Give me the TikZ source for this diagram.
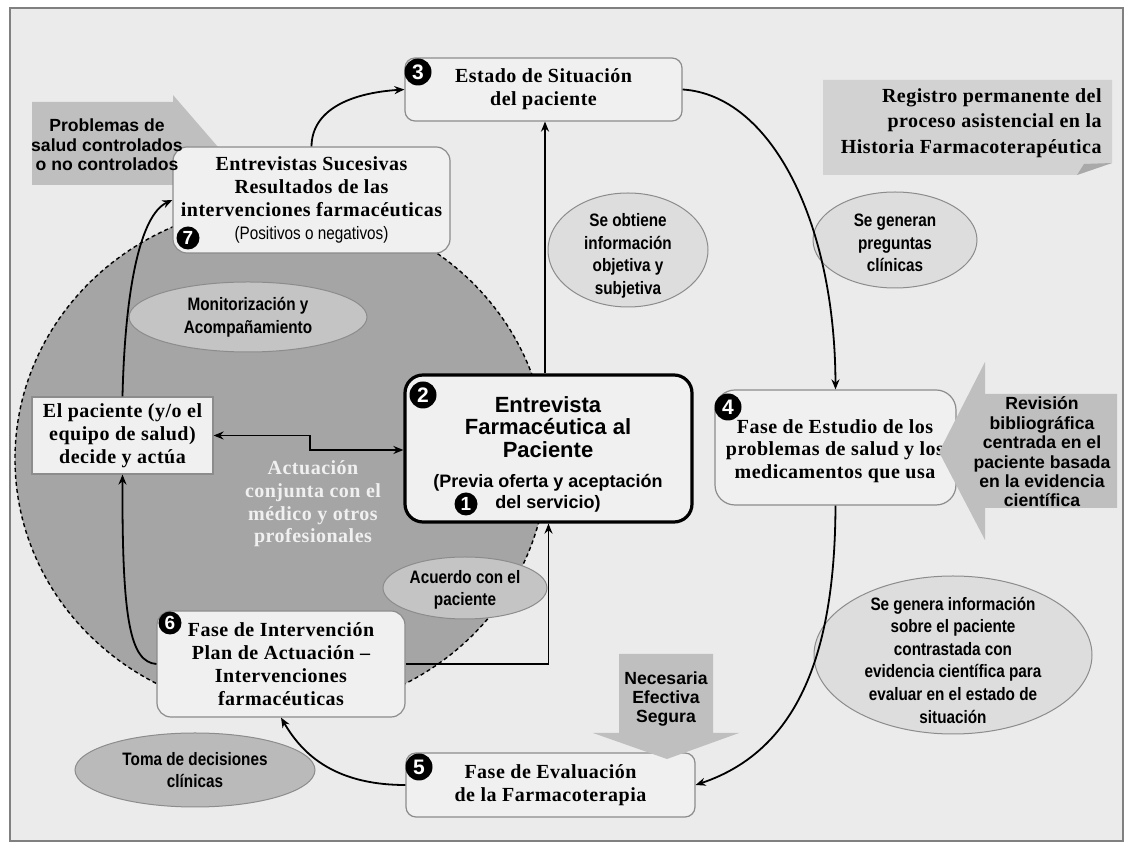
\documentclass[tikz,border=0pt]{standalone}
\usepackage{fontspec}
\setmainfont{Liberation Serif}
\newfontfamily\serifesp[LetterSpace=2.5]{Liberation Serif}
\newfontfamily\arial{Liberation Sans}
\newfontfamily\estrecha[FakeStretch=0.85]{Liberation Sans}
\usetikzlibrary{arrows.meta}
\definecolor{fondo}{RGB}{235,235,235}
\definecolor{marco}{RGB}{128,128,128}
\definecolor{cajaf}{RGB}{240,240,240}
\definecolor{borde}{RGB}{140,140,140}
\definecolor{circulo}{RGB}{165,165,165}
\definecolor{elipf}{RGB}{221,221,221}
\definecolor{elipm}{RGB}{196,196,196}
\definecolor{bloque}{RGB}{191,191,191}
\definecolor{nota}{RGB}{210,210,210}
\definecolor{pliegue}{RGB}{169,169,169}
\tikzset{
  caja/.style={draw=borde, fill=cajaf, rounded corners=5pt, align=center, inner sep=2pt, line width=0.6pt,
    font=\serifesp\bfseries\fontsize{10}{11.4}\selectfont},
  ctxt/.style={align=center, inner sep=0pt, font=\serifesp\bfseries\fontsize{10}{11.4}\selectfont},
  num/.style={circle, fill=black, text=white, inner sep=0pt, minimum size=13.5pt, font=\arial\bfseries\fontsize{10.5}{10.5}\selectfont},
  numc/.style={num, minimum size=11.5pt, font=\arial\bfseries\fontsize{9.5}{9.5}\selectfont},
  fl/.style={-{Stealth[length=5pt,width=4pt]}, line width=0.9pt},
  fldoble/.style={{Stealth[length=5pt,width=4pt]}-{Stealth[length=5pt,width=4pt]}, line width=0.9pt},
  elipc/.style={fill=elipf, draw=borde, line width=0.5pt},
  elipo/.style={fill=elipm, draw=borde, line width=0.5pt},
  etxt/.style={align=center, inner sep=0pt, font=\estrecha\bfseries\fontsize{9}{11.3}\selectfont},
  flechab/.style={fill=bloque},
  flechatxt/.style={align=center, inner sep=0pt, font=\arial\bfseries\fontsize{8.8}{9.7}\selectfont},
  blanco/.style={align=center, inner sep=0pt, text=white!94!black, font=\serifesp\bfseries\fontsize{10}{11.3}\selectfont},
}
\begin{document}
\begin{tikzpicture}[x=0.5pt, y=-0.5pt]
  \useasboundingbox (0,0) rectangle (1132,849);
  \fill[white] (0,0) rectangle (1132,849);
  \filldraw[fill=fondo, draw=marco, line width=0.6pt] (10,8) rectangle (1123,841);
  % zona de actuacion conjunta
  \filldraw[fill=circulo, draw=black, dashed, dash pattern=on 2pt off 1.5pt, line width=0.7pt]
    (281,459) ellipse [x radius=133pt, y radius=127pt];
  \filldraw[elipo] (248,317) ellipse [x radius=59.5pt, y radius=17.5pt];
  \node[etxt] (mon) at (248,317) {Monitorización y\\Acompañamiento};
  \filldraw[elipo] (465,588) ellipse [x radius=41pt, y radius=15.5pt];
  \node[etxt] (acu) at (465,590) {Acuerdo con el\\paciente};
  \node[blanco] (actu) at (313,504) {Actuación\\conjunta con el\\médico y otros\\profesionales};
  % flechas de bloque y nota
  \fill[flechab] (32,102) -- (173,102) -- (173,95) -- (218,147) -- (173,200) -- (173,185) -- (32,185) -- cycle;
  \fill[nota] (823,80) -- (1112,80) -- (1112,163) -- (1077,175) -- (823,175) -- cycle;
  \fill[pliegue] (1077,175) -- (1084,164) -- (1112,163) -- cycle;
  \node[align=right, anchor=east, inner sep=0pt, font=\serifesp\bfseries\fontsize{10}{12.6}\selectfont] (reg) at (1102,123)
    {Registro permanente del\\proceso asistencial en la\\Historia Farmacoterapéutica};
  % elipses
  \filldraw[elipc] (628,250) ellipse [x radius=40pt, y radius=28.5pt];
  \node[etxt] (obt) at (628,256) {Se obtiene\\información\\objetiva y\\subjetiva};
  \filldraw[elipc] (895,240) ellipse [x radius=41pt, y radius=24pt];
  \node[etxt] (preg) at (895,243) {Se generan\\preguntas\\clínicas};
  \filldraw[elipc] (953,655) ellipse [x radius=69.5pt, y radius=39.5pt];
  \node[etxt] (geninf) at (953,660) {Se genera información\\sobre el paciente\\contrastada con\\evidencia científica para\\evaluar en el estado de\\situación};
  \filldraw[elipo, fill=elipm!95!black] (195,770) ellipse [x radius=60pt, y radius=18.5pt];
  \node[etxt] (toma) at (195,770) {Toma de decisiones\\clínicas};
  % cajas
  \node[caja, minimum width=138.5pt, minimum height=31.5pt] (est) at (543.5,89.5) {Estado de Situación\\del paciente};
  \node[caja, rounded corners=7pt, minimum width=138.5pt, minimum height=53pt] (suc) at (311.5,200)
    {Entrevistas Sucesivas\\Resultados de las\\intervenciones farmacéuticas\\{\estrecha\mdseries\fontsize{9}{10}\selectfont (Positivos o negativos)}};
  \node[flechatxt] (prob) at (107,145) {Problemas de\\salud controlados\\o no controlados};
  \node[caja, draw=black, line width=1.6pt, rounded corners=9pt, minimum width=143.5pt, minimum height=73.5pt] (ent) at (548.5,448.5) {};
  \node[align=center, inner sep=0pt, font=\arial\bfseries\fontsize{11}{11.3}\selectfont] (entt) at (548,427) {Entrevista\\Farmacéutica al\\Paciente};
  \node[align=center, inner sep=0pt, font=\arial\bfseries\fontsize{9}{10.5}\selectfont] (ents) at (548,493.5) {(Previa oferta y aceptación\\del servicio)};
  \node[caja, rounded corners=10pt, minimum width=120.5pt, minimum height=57.5pt] (fest) at (835.5,447.5) {};
  \node[ctxt] (festt) at (835,451) {Fase de Estudio de los\\problemas de salud y los\\medicamentos que usa};
  \node[caja, minimum width=144.5pt, minimum height=32pt] (feval) at (550.5,785) {Fase de Evaluación\\de la Farmacoterapia};
  \node[caja, rounded corners=7pt, minimum width=124pt, minimum height=53pt] (fint) at (281,664)
    {Fase de Intervención\\Plan de Actuación –\\Intervenciones\\farmacéuticas};
  \node[caja, rounded corners=0pt, minimum width=90.5pt, minimum height=38.5pt] (pac) at (122.5,435.5)
    {El paciente (y/o el\\equipo de salud)\\decide y actúa};
  % conectores
  \coordinate (ejeN) at (545,0);
  \coordinate (codo) at (310,450);
  \draw[fl] (ent.north -| ejeN) -- (est.south -| ejeN);
  \draw[fl] (suc.north) .. controls (312,110) and (350,93) .. (est.west);
  \draw[fl] (est.east) .. controls (770,95) and (835,220) .. (fest.north);
  \draw[fl] (fest.south) .. controls (835,650) and (800,750) .. (feval.east);
  \draw[fl] (feval.west) .. controls (330,785) and (300,750) .. (fint.south);
  \draw[fl] (fint.east) -| (ent.south);
  \draw[fl] (fint.west) .. controls (130,662) and (122,620) .. (pac.south);
  \draw[fl] (pac.north) .. controls (125,290) and (140,215) .. (suc.west);
  \draw[fldoble] (pac.east) -| (codo) -- (codo -| ent.west);
  % flechas de bloque sobre las cajas
  \fill[flechab] (939,452) -- (985,362) -- (985,394) -- (1117,394) -- (1117,508) -- (985,508) -- (985,540) -- cycle;
  \node[flechatxt] (rev) at (1042,452) {Revisión\\bibliográfica\\centrada en el\\paciente basada\\en la evidencia\\científica};
  \fill[flechab] (619,654) -- (713,654) -- (713,733) -- (739,733) -- (667,759) -- (593,733) -- (619,733) -- cycle;
  \node[flechatxt] (nes) at (666,699) {Necesaria\\Efectiva\\Segura};
  % numeros
  \node[num] (n3) at (418,72) {3};
  \node[num] (n2) at (423,395) {2};
  \node[numc] (n1) at (466,504) {1};
  \node[num] (n4) at (728,407) {4};
  \node[num] (n5) at (419,767) {5};
  \node[numc] (n6) at (170,623) {6};
  \node[numc] (n7) at (188,238) {7};
\end{tikzpicture}
\end{document}
